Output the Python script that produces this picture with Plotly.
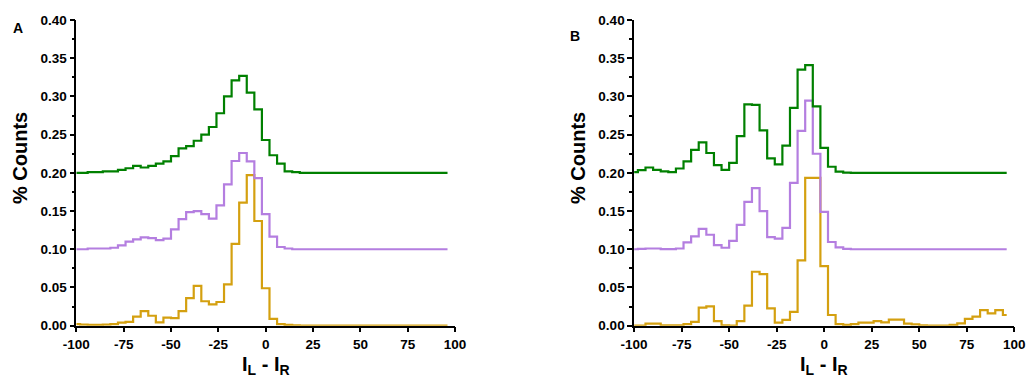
import plotly.graph_objects as go

# Histogram bin centres (bin width 4)
BIN_CENTERS = list(range(-100, 100, 4))
X_TICKS = [-100, -75, -50, -25, 0, 25, 50, 75, 100]

# Panel A: % counts per bin (raw, before vertical offset)
A_GREEN = [0.000, 0.000, 0.001, 0.001, 0.002, 0.002, 0.004, 0.006, 0.009, 0.007,
           0.009, 0.012, 0.015, 0.022, 0.032, 0.035, 0.042, 0.050, 0.060, 0.078,
           0.100, 0.121, 0.127, 0.105, 0.083, 0.043, 0.023, 0.012, 0.002, 0.001,
           0, 0, 0, 0, 0, 0, 0, 0, 0, 0, 0, 0, 0, 0, 0, 0, 0, 0, 0, 0]
A_PURPLE = [0.000, 0.000, 0.001, 0.001, 0.001, 0.002, 0.005, 0.010, 0.013, 0.0155,
            0.0146, 0.012, 0.014, 0.026, 0.0395, 0.0485, 0.050, 0.046, 0.040, 0.0575,
            0.085, 0.1155, 0.126, 0.115, 0.093, 0.046, 0.0165, 0.003, 0.001, 0.000,
            0, 0, 0, 0, 0, 0, 0, 0, 0, 0, 0, 0, 0, 0, 0, 0, 0, 0, 0, 0]
A_GOLD = [0.002, 0.0015, 0.001, 0.001, 0.0015, 0.002, 0.004, 0.005, 0.012, 0.019,
          0.013, 0.0044, 0.0105, 0.010, 0.019, 0.036, 0.052, 0.032, 0.028, 0.031,
          0.054, 0.107, 0.161, 0.197, 0.137, 0.049, 0.009, 0.002, 0.001, 0.0005,
          0, 0, 0, 0, 0, 0, 0, 0, 0, 0, 0, 0, 0, 0, 0, 0, 0, 0, 0, 0]

# Panel B
B_GREEN = [0.001, 0.0035, 0.007, 0.004, 0.002, 0.001, 0.0057, 0.015, 0.030, 0.040,
           0.026, 0.010, 0.004, 0.013, 0.048, 0.0896, 0.089, 0.0557, 0.019, 0.011,
           0.0357, 0.085, 0.135, 0.141, 0.087, 0.0326, 0.008, 0.0017, 0.0004, 0,
           0, 0, 0, 0, 0, 0, 0, 0, 0, 0, 0, 0, 0, 0, 0, 0, 0, 0, 0, 0]
B_PURPLE = [0.000, 0.0006, 0.001, 0.001, 0.0003, 0.0003, 0.001, 0.009, 0.017, 0.0268,
            0.019, 0.0055, 0.002, 0.011, 0.032, 0.062, 0.080, 0.050, 0.016, 0.014,
            0.028, 0.087, 0.155, 0.1946, 0.125, 0.049, 0.0095, 0.0025, 0.0005, 0,
            0, 0, 0, 0, 0, 0, 0, 0, 0, 0, 0, 0, 0, 0, 0, 0, 0, 0, 0, 0]
B_GOLD = [0.000, 0.000, 0.0026, 0.0026, 0.0004, 0.0004, 0.0004, 0.002, 0.005, 0.0237,
          0.0254, 0.006, 0.0004, 0.000, 0.006, 0.0263, 0.0706, 0.0675, 0.0228, 0.004,
          0.0075, 0.018, 0.0855, 0.1935, 0.1935, 0.078, 0.014, 0.002, 0.001, 0.002,
          0.004, 0.004, 0.006, 0.0044, 0.008, 0.008, 0.0026, 0.0017, 0.0004, 0.000,
          0.000, 0.000, 0.001, 0.003, 0.009, 0.012, 0.0205, 0.016, 0.0205, 0.014]

# Vertical offsets separating the three series
OFFSETS = {"green": 0.20, "purple": 0.10, "gold": 0.00}
COLORS = {"green": "#008000", "purple": "#B47EE0", "gold": "#D4A010"}

W, H = 1026, 379
FONT = "Liberation Sans, Arial, sans-serif"

fig = go.Figure()

panels = [
    ("x", "y", {"green": A_GREEN, "purple": A_PURPLE, "gold": A_GOLD}),
    ("x2", "y2", {"green": B_GREEN, "purple": B_PURPLE, "gold": B_GOLD}),
]
for xa, ya, series in panels:
    for name in ["gold", "purple", "green"]:
        vals = [v + OFFSETS[name] for v in series[name]]
        fig.add_trace(go.Scatter(
            x=BIN_CENTERS, y=vals, mode="lines",
            line=dict(color=COLORS[name], width=2.2, shape="hvh"),
            xaxis=xa, yaxis=ya, showlegend=False, hoverinfo="skip",
        ))


def px_x(p):
    return p / W


def px_y(p):
    return 1 - p / H


tickfont = dict(family=FONT, size=13.5, color="black", weight="bold")

x_common = dict(
    range=[-100, 100], tickvals=X_TICKS, ticktext=[str(t) for t in X_TICKS],
    showline=True, linecolor="black", linewidth=1.5, ticks="outside",
    ticklen=5, tickwidth=1.5, tickcolor="black", showgrid=False, zeroline=False,
    tickfont=tickfont, automargin=False,
)
y_common = dict(
    range=[0, 0.40], dtick=0.05, tickformat=".2f",
    showline=True, linecolor="black", linewidth=1.5, ticks="outside",
    ticklen=5, tickwidth=1.5, tickcolor="black", showgrid=False, zeroline=False,
    tickfont=tickfont, automargin=False,
    minor=dict(dtick=0.025, ticks="outside", ticklen=3, tickwidth=1.5, tickcolor="black"),
    domain=[px_y(325.7), px_y(20)],
)

fig.update_layout(
    width=W, height=H,
    margin=dict(l=0, r=0, t=0, b=0, autoexpand=False),
    paper_bgcolor="white", plot_bgcolor="white",
    xaxis=dict(**x_common, domain=[px_x(76.3), px_x(455.1)], anchor="y"),
    yaxis=dict(**y_common, anchor="x"),
    xaxis2=dict(**x_common, domain=[px_x(634.1), px_x(1014.3)], anchor="y2"),
    yaxis2=dict(**y_common, anchor="x2"),
)

title_font = dict(family=FONT, size=20, color="black", weight="bold")
label_font = dict(family=FONT, size=14, color="black", weight="bold")

annotations = [
    # panel letters
    dict(text="A", x=px_x(18), y=px_y(28), font=label_font),
    dict(text="B", x=px_x(575), y=px_y(36), font=label_font),
    # y-axis titles
    dict(text="% Counts", x=px_x(20), y=px_y(158), textangle=-90, font=title_font),
    dict(text="% Counts", x=px_x(578), y=px_y(158), textangle=-90, font=title_font),
    # x-axis titles
    dict(text="I<sub>L</sub> - I<sub>R</sub>", x=px_x(265.7), y=px_y(365), font=title_font),
    dict(text="I<sub>L</sub> - I<sub>R</sub>", x=px_x(824.2), y=px_y(365), font=title_font),
]
for a in annotations:
    a.update(xref="paper", yref="paper", showarrow=False, xanchor="center", yanchor="middle")
fig.update_layout(annotations=annotations)

fig.write_html("out.html")
